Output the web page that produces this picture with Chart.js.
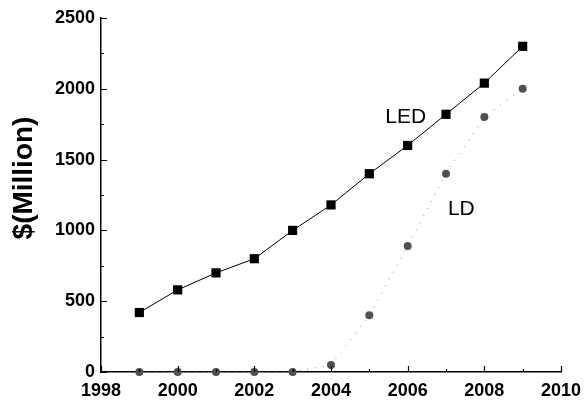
<!DOCTYPE html>
<html>
<head>
<meta charset="utf-8">
<script src="https://cdn.jsdelivr.net/npm/chart.js@4/dist/chart.umd.min.js"></script>
<style>
    body { margin: 0; background: #fff; }
</style>
</head>
<body>
<canvas id="grafico" width="585" height="401"></canvas>
<script>

//dados

const anos = [1999, 2000, 2001, 2002, 2003, 2004, 2005, 2006, 2007, 2008, 2009]
const vendas_led = [420, 580, 700, 800, 1000, 1180, 1400, 1600, 1820, 2040, 2300]
const vendas_ld = [0, 0, 0, 0, 0, 50, 400, 890, 1400, 1800, 2000]
const ticks_x = [1998, 2000, 2002, 2004, 2006, 2008, 2010]
const ticks_y = [0, 500, 1000, 1500, 2000, 2500]
const titulo_y = '$(Million)'

/*========================================================*/

//rotulos das curvas (em unidades dos eixos)
const rotulos = [
    { texto: 'LED', ano: 2005.95, valor: 1800 },
    { texto: 'LD', ano: 2007.4, valor: 1150 }
]

const fonte = '"Liberation Sans", Arial, sans-serif'

function pares(xs, ys){
    let pontos = []
    for(let i = 0; i < xs.length; i++){
        pontos.push({ x: xs[i], y: ys[i] })
    }
    return pontos
}

/*========================================================*/

//tracinhos para dentro + textos
const extras = {
    id: 'extras',
    afterDraw(chart){
        const { ctx, scales: { x, y } } = chart
        const base = y.getPixelForValue(0)
        const esq = x.getPixelForValue(1998)

        ctx.save()
        ctx.strokeStyle = '#000'
        ctx.lineWidth = 1.2
        ctx.beginPath()
        for(let ano = ticks_x[0]; ano <= ticks_x[ticks_x.length - 1]; ano++){
            let px = Math.round(x.getPixelForValue(ano)) + 0.5
            let tam = ticks_x.includes(ano) ? 6 : 3
            ctx.moveTo(px, base)
            ctx.lineTo(px, base - tam)
        }
        for(let v = 0; v <= ticks_y[ticks_y.length - 1]; v += 250){
            let py = Math.round(y.getPixelForValue(v)) + 0.5
            let tam = ticks_y.includes(v) ? 6 : 3
            ctx.moveTo(esq, py)
            ctx.lineTo(esq + tam, py)
        }
        ctx.stroke()

        //rotulos LED / LD
        ctx.fillStyle = '#000'
        ctx.font = '21px ' + fonte
        ctx.textAlign = 'center'
        ctx.textBaseline = 'middle'
        rotulos.forEach(r => {
            ctx.fillText(r.texto, x.getPixelForValue(r.ano), y.getPixelForValue(r.valor))
        })

        //titulo do eixo y
        ctx.translate(24, 178)
        ctx.rotate(-Math.PI / 2)
        ctx.font = 'bold 28px ' + fonte
        ctx.fillText(titulo_y, 0, 0)
        ctx.restore()
    }
}

/*========================================================*/

    //saida

const ctx = document.getElementById('grafico')

var grafico = new Chart(ctx, {
    type: 'line',
    data: {
        datasets: [{
            label: 'LED',
            data: pares(anos, vendas_led),
            borderColor: '#000',
            borderWidth: 1,
            backgroundColor: '#000',
            pointStyle: 'rect',
            pointRadius: 6.5,
            pointBorderWidth: 0,
            clip: false
        }, {
            label: 'LD',
            data: pares(anos, vendas_ld),
            borderColor: '#888',
            borderWidth: 1,
            borderDash: [1, 7],
            backgroundColor: '#505050',
            pointStyle: 'circle',
            pointRadius: 4,
            pointBorderWidth: 0,
            clip: false
        }]
    },
    options: {
        responsive: false,
        animation: false,
        layout: { padding: { top: 18, right: 24, left: 0, bottom: 0 } },
        plugins: {
            legend: { display: false },
            tooltip: { enabled: false }
        },
        scales: {
            x: {
                type: 'linear',
                min: 1998,
                max: 2010,
                afterBuildTicks: s => { s.ticks = ticks_x.map(v => ({ value: v })) },
                afterFit: s => { s.height = 29; s.paddingLeft = 0; s.paddingRight = 0 },
                grid: { display: false, drawTicks: false },
                border: { display: true, color: '#000', width: 1.5 },
                ticks: {
                    padding: 8,
                    color: '#000',
                    font: { family: fonte, size: 18, weight: 'bold' },
                    callback: v => String(v)
                }
            },
            y: {
                min: 0,
                max: 2500,
                afterBuildTicks: s => { s.ticks = ticks_y.map(v => ({ value: v })) },
                afterFit: s => { s.width = 101; s.paddingTop = 0; s.paddingBottom = 0 },
                grid: { display: false, drawTicks: false },
                border: { display: true, color: '#000', width: 1.5 },
                ticks: {
                    padding: 6,
                    color: '#000',
                    font: { family: fonte, size: 18, weight: 'bold' },
                    callback: v => String(v)
                }
            }
        }
    },
    plugins: [extras]
})

</script>
</body>
</html>
